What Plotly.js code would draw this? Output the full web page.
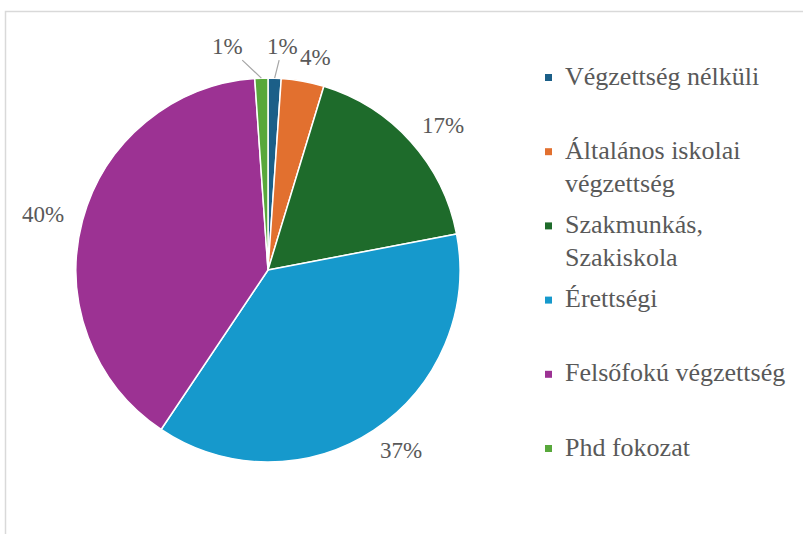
<!DOCTYPE html>
<html>
<head>
<meta charset="utf-8">
<script src="https://cdn.plot.ly/plotly-3.0.1.min.js"></script>
<style>
html,body{margin:0;padding:0;background:#fff;}
#chart{width:803px;height:534px;}
</style>
</head>
<body>
<div id="chart"></div>
<script>
// Categories as written in the legend (<br> marks a wrapped line)
const categories = [
  "Végzettség nélküli",
  "Általános iskolai<br>végzettség",
  "Szakmunkás,<br>Szakiskola",
  "Érettségi",
  "Felsőfokú végzettség",
  "Phd fokozat"
];
// Shares in percent
const shares = [1.1, 3.6, 17.3, 37.4, 39.5, 1.1];
const colors = ["#1b5f88", "#e2702f", "#1e6b2b", "#1699cc", "#9c3293", "#58a83b"];

const W = 803, H = 534;
const textColor = "#595959";
const px = x => x / W, py = y => 1 - y / H;

const cx = 268, cy = 270, r = 192;
const trace = {
  type: "pie",
  labels: categories.map(c => c.replace("<br>", " ")),
  values: shares,
  sort: false,
  direction: "clockwise",
  rotation: 0,
  marker: { colors: colors, line: { color: "#ffffff", width: 1.5 } },
  textinfo: "none",
  hoverinfo: "label+percent",
  showlegend: false,
  domain: { x: [px(cx - r), px(cx + r)], y: [py(cy + r), py(cy - r)] }
};

const annotations = [];
const shapes = [{
  type: "rect", xref: "paper", yref: "paper",
  x0: px(5.5), x1: 1.02, y0: -0.02, y1: py(11.5),
  line: { color: "#d9d9d9", width: 1.5 }, fillcolor: "rgba(0,0,0,0)", layer: "below"
}];

// percentage labels placed outside each slice along its bisector
const total = shares.reduce((a, b) => a + b, 0);
let cum = 0;
shares.forEach((v, i) => {
  const mid = (cum + v / 2) / total * 2 * Math.PI;
  cum += v;
  const ux = Math.sin(mid), uy = -Math.cos(mid);
  const txt = Math.round(v / total * 100) + "%";
  const font = { family: "Liberation Serif", size: 23, color: textColor };
  if (v / total < 0.02) {
    const ex = cx + r * ux, ey = cy + r * uy;
    annotations.push({
      xref: "paper", yref: "paper", x: px(ex), y: py(ey),
      text: txt, font: font, showarrow: true, arrowhead: 0, arrowwidth: 1.2,
      arrowcolor: "#a6a6a6", standoff: 0, startstandoff: 0,
      ax: ux > 0 ? 8 : -34, ay: -32
    });
  } else {
    const w = txt.length * 12 + 8, h = 24, g = 18;
    const tx = cx + (r + g) * ux + ux * w / 2 + Math.sign(ux) * (w / 4) * (1 - Math.abs(ux));
    const ty = cy + (r + g) * uy + uy * h / 4;
    annotations.push({
      xref: "paper", yref: "paper", x: px(tx), y: py(ty),
      xanchor: "center", yanchor: "middle",
      text: txt, font: font, showarrow: false
    });
  }
});

// legend drawn line by line
const legTop = 76, legStep = 74.2, lineGap = 33;
categories.forEach((c, i) => {
  const y0 = legTop + i * legStep;
  c.split("<br>").forEach((line, j) => {
    annotations.push({
      xref: "paper", yref: "paper", x: px(563), y: py(y0 + j * lineGap),
      xanchor: "left", yanchor: "middle", showarrow: false,
      text: line, font: { family: "Liberation Serif", size: 26, color: textColor }
    });
  });
  shapes.push({
    type: "rect", xref: "paper", yref: "paper",
    x0: px(545), x1: px(552), y0: py(y0 + 5), y1: py(y0 - 2),
    fillcolor: colors[i], line: { width: 0 }
  });
});

const layout = {
  width: W, height: H,
  margin: { l: 0, r: 0, t: 0, b: 0 },
  paper_bgcolor: "#ffffff",
  font: { family: "Liberation Serif", color: textColor },
  showlegend: false,
  annotations: annotations,
  shapes: shapes
};

Plotly.newPlot("chart", [trace], layout, { staticPlot: true, displayModeBar: false });
</script>
</body>
</html>
